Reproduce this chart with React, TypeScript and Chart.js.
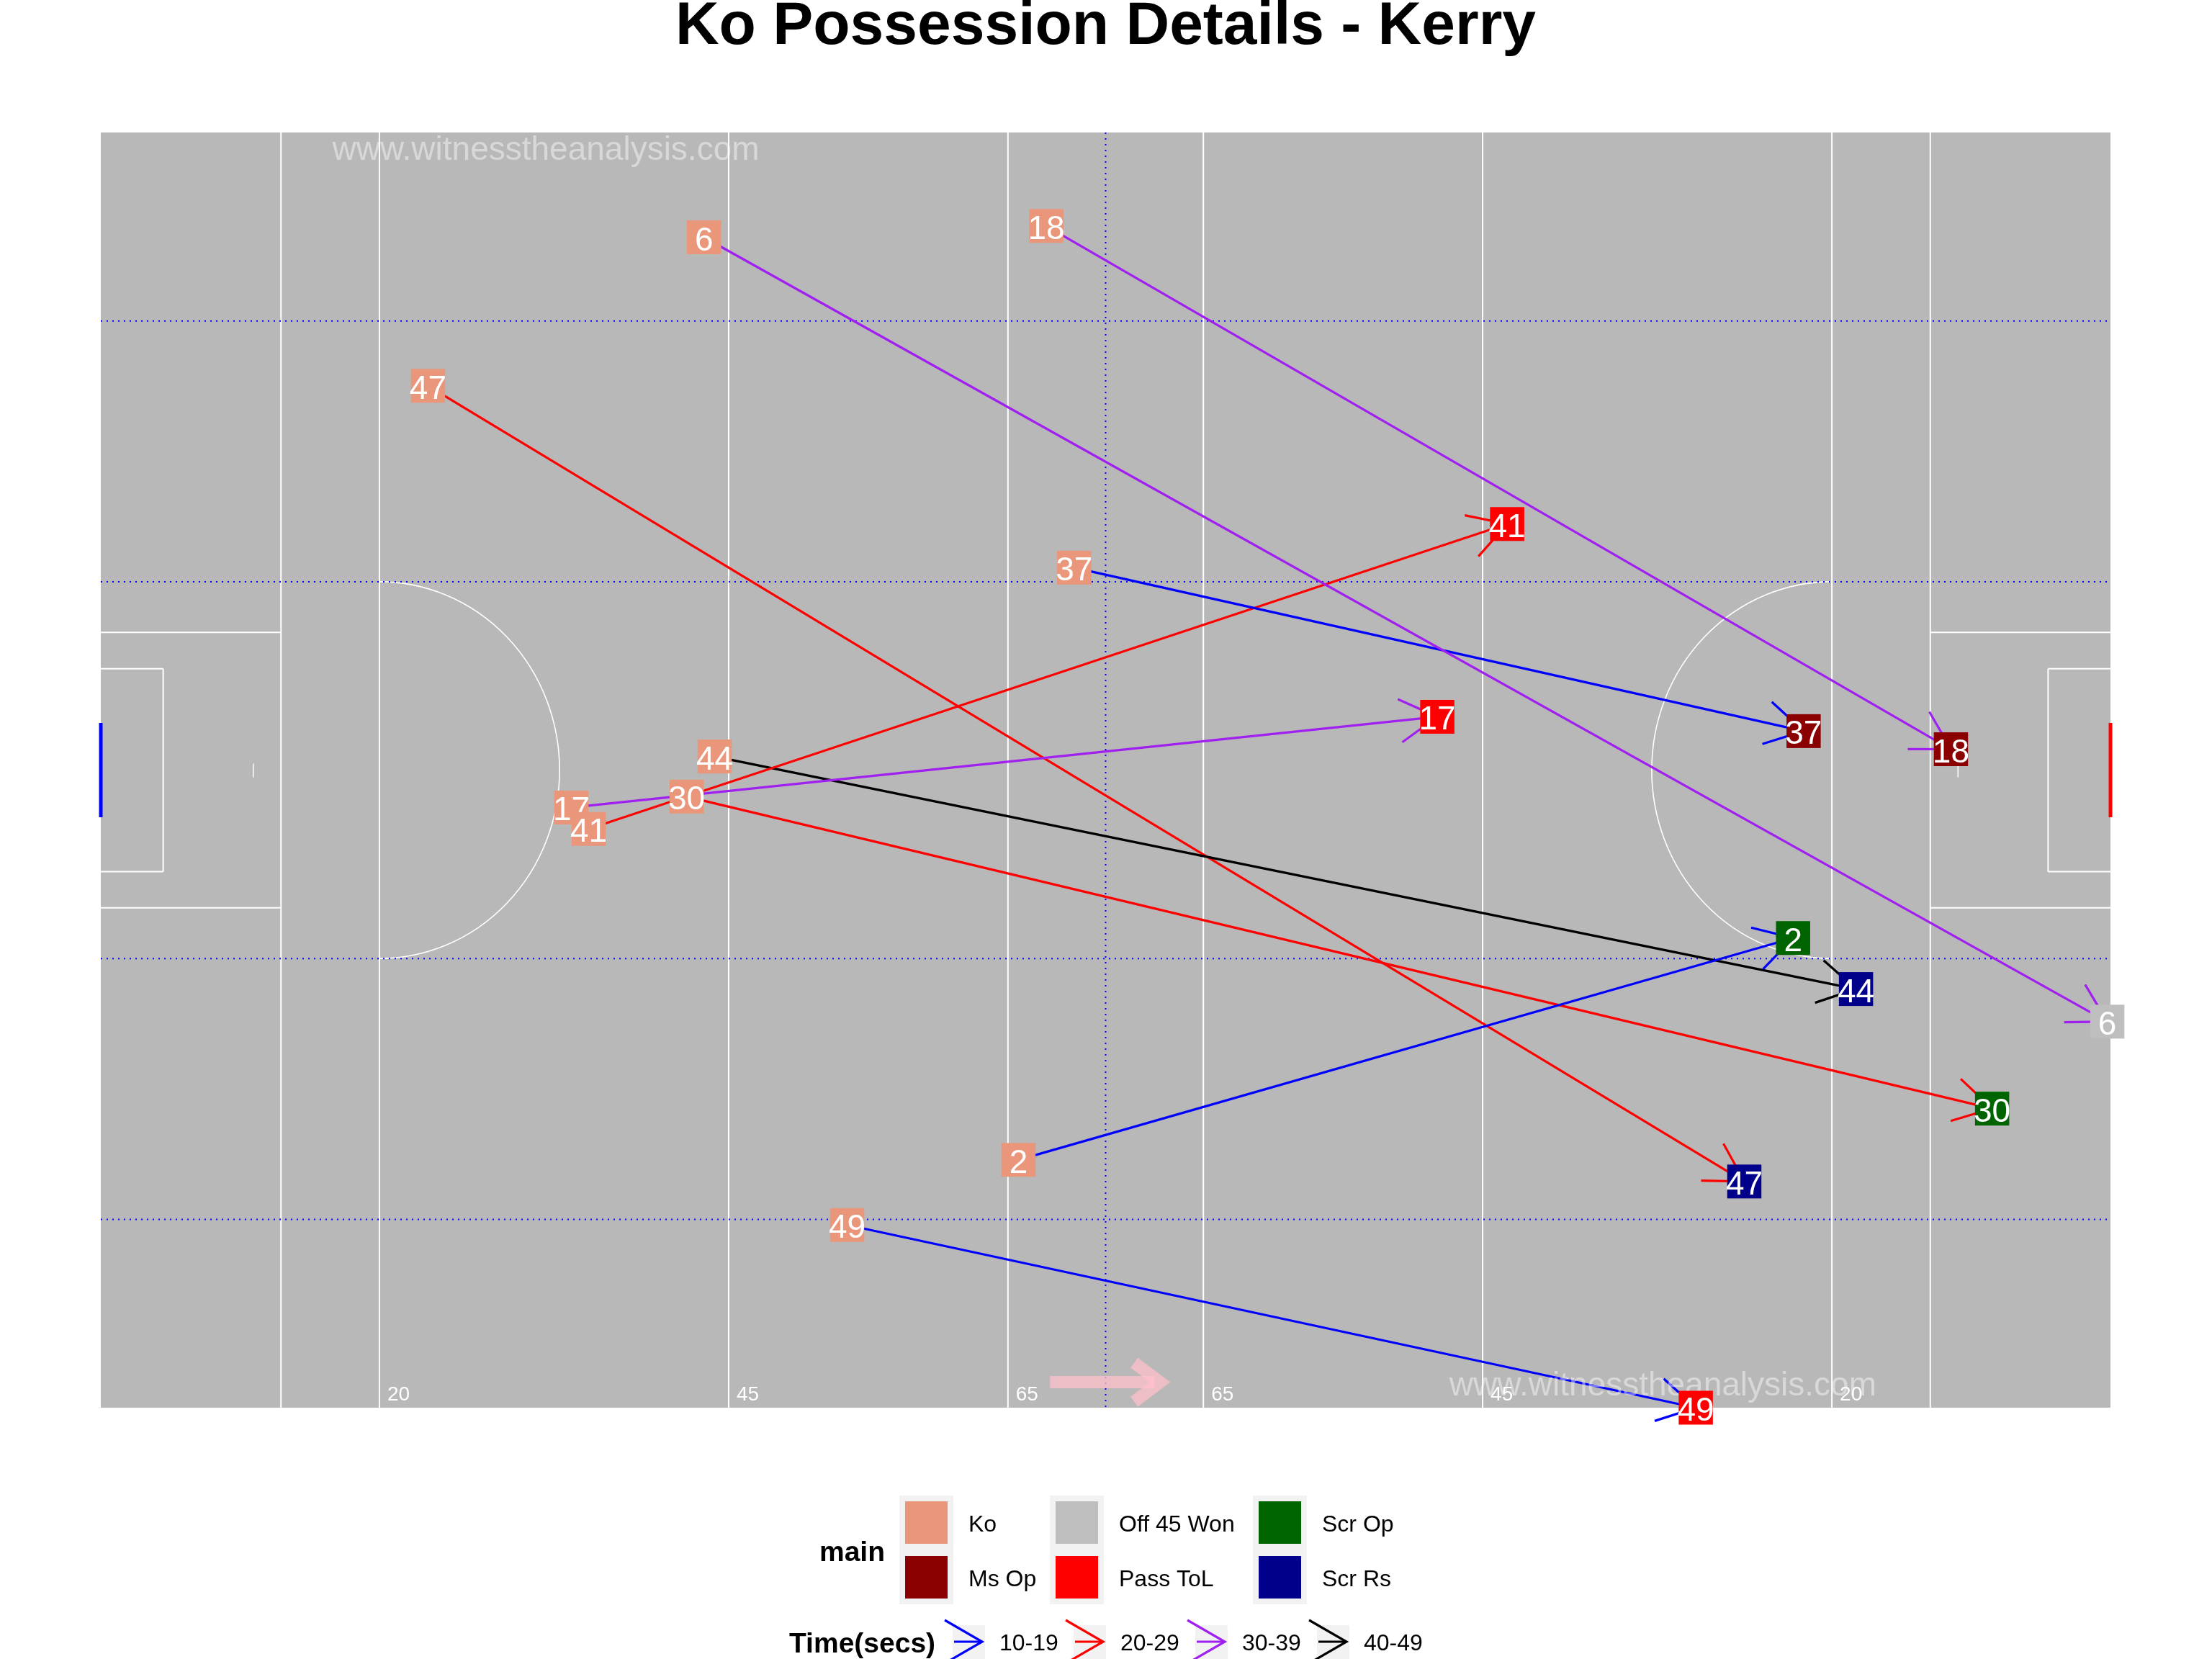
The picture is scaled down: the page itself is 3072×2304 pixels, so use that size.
import React, { useEffect, useRef } from 'react';
import { Chart, registerables } from 'chart.js';

Chart.register(...registerables);

// ---------- data ----------
const possessionIds = ['2', '6', '17', '18', '30', '37', '41', '44', '47', '49'];
const startX = [66.21, 43.52, 33.95, 68.22, 42.27, 70.23, 35.2, 44.29, 23.61, 53.85];
const startY = [17.1, 80.77, 41.42, 81.55, 42.17, 57.97, 39.94, 44.94, 70.52, 12.61];
const endX = [122.1, 144.77, 96.43, 133.49, 136.46, 122.86, 101.47, 126.64, 118.58, 115.08];
const endY = [32.41, 26.64, 47.68, 45.44, 20.64, 46.69, 60.98, 28.89, 15.61, 0.0];
const startOutcome = ['Ko', 'Ko', 'Ko', 'Ko', 'Ko', 'Ko', 'Ko', 'Ko', 'Ko', 'Ko'];
const endOutcome = ['Scr Op', 'Off 45 Won', 'Pass ToL', 'Ms Op', 'Scr Op', 'Ms Op', 'Pass ToL', 'Scr Rs', 'Scr Rs', 'Pass ToL'];
const timeBin = ['10-19', '30-39', '30-39', '30-39', '20-29', '10-19', '20-29', '40-49', '20-29', '10-19'];

const outcomeCategories = ['Ko', 'Ms Op', 'Off 45 Won', 'Pass ToL', 'Scr Op', 'Scr Rs'];
const outcomeColors = ['#E9967A', '#8B0000', '#BEBEBE', '#FF0000', '#006400', '#00008B'];
const timeCategories = ['10-19', '20-29', '30-39', '40-49'];
const timeColors = ['#0000FF', '#FF0000', '#A020F0', '#000000'];

// pitch geometry (metres)
const pitchLength = 145;
const pitchWidth = 88;
const pitchLineX = [13, 20.1, 45.3, 65.45, 79.55, 99.7, 124.9, 132];
const distanceX = [20.1, 45.3, 65.45, 79.55, 99.7, 124.9];
const distanceLabels = ['20', '45', '65', '65', '45', '20'];
const dottedY = [13, 31, 57, 75];
const halfwayX = 72.5;

const TITLE = 'Ko Possession Details - Kerry';
const WATERMARK = 'www.witnesstheanalysis.com';
const FONT = '"Liberation Sans", Arial, Helvetica, sans-serif';

const colorOf = (cat: string) => outcomeColors[outcomeCategories.indexOf(cat)];
const timeColorOf = (t: string) => timeColors[timeCategories.indexOf(t)];

function drawArrowHead(ctx: CanvasRenderingContext2D, x0: number, y0: number, x1: number, y1: number, color: string, len: number, width: number) {
  const a = Math.atan2(y1 - y0, x1 - x0);
  const s = Math.PI / 6;
  ctx.save();
  ctx.strokeStyle = color;
  ctx.lineWidth = width;
  ctx.lineCap = 'butt';
  ctx.beginPath();
  ctx.moveTo(x1 - len * Math.cos(a - s), y1 - len * Math.sin(a - s));
  ctx.lineTo(x1, y1);
  ctx.lineTo(x1 - len * Math.cos(a + s), y1 - len * Math.sin(a + s));
  ctx.stroke();
  ctx.restore();
}

function drawLabel(ctx: CanvasRenderingContext2D, cx: number, cy: number, text: string, fill: string) {
  const w = 47.5;
  const h = 47;
  ctx.save();
  ctx.fillStyle = fill;
  ctx.fillRect(cx - w / 2, cy - h / 2, w, h);
  ctx.fillStyle = '#FFFFFF';
  ctx.font = `46px ${FONT}`;
  ctx.textAlign = 'center';
  ctx.textBaseline = 'alphabetic';
  ctx.fillText(text, cx, cy + 18);
  ctx.restore();
}

const pitchPlugin = {
  id: 'pitch',
  beforeDraw(chart: any) {
    const { ctx, chartArea: ca } = chart;
    ctx.save();
    ctx.fillStyle = '#FFFFFF';
    ctx.fillRect(0, 0, chart.width, chart.height);
    ctx.fillStyle = '#B8B8B8';
    ctx.fillRect(ca.left, ca.top, ca.right - ca.left, ca.bottom - ca.top);
    ctx.restore();
  },
  beforeDatasetsDraw(chart: any) {
    const { ctx } = chart;
    const xs = chart.scales.x;
    const ys = chart.scales.y;
    const px = (v: number) => xs.getPixelForValue(v);
    const py = (v: number) => ys.getPixelForValue(v);
    const mid = pitchWidth / 2;
    ctx.save();
    ctx.strokeStyle = '#FFFFFF';
    ctx.lineWidth = 2;
    ctx.beginPath();
    pitchLineX.forEach((x) => {
      ctx.moveTo(px(x), py(0));
      ctx.lineTo(px(x), py(pitchWidth));
    });
    // large rectangles
    [mid - 9.5, mid + 9.5].forEach((y) => {
      ctx.moveTo(px(0), py(y));
      ctx.lineTo(px(13), py(y));
      ctx.moveTo(px(pitchLength - 13), py(y));
      ctx.lineTo(px(pitchLength), py(y));
    });
    // small rectangles
    [mid - 7, mid + 7].forEach((y) => {
      ctx.moveTo(px(0), py(y));
      ctx.lineTo(px(4.5), py(y));
      ctx.moveTo(px(pitchLength - 4.5), py(y));
      ctx.lineTo(px(pitchLength), py(y));
    });
    ctx.moveTo(px(4.5), py(mid - 7));
    ctx.lineTo(px(4.5), py(mid + 7));
    ctx.moveTo(px(pitchLength - 4.5), py(mid - 7));
    ctx.lineTo(px(pitchLength - 4.5), py(mid + 7));
    ctx.stroke();

    // penalty marks
    ctx.lineWidth = 1.5;
    ctx.beginPath();
    [11, pitchLength - 11].forEach((x) => {
      ctx.moveTo(px(x), py(mid + 0.45));
      ctx.lineTo(px(x), py(mid - 0.5));
    });
    ctx.stroke();

    // arcs
    const rx = px(13) - px(0);
    const ry = py(0) - py(13);
    ctx.lineWidth = 1.6;
    ctx.beginPath();
    ctx.ellipse(px(20.1), py(mid), rx, ry, 0, -Math.PI / 2, Math.PI / 2);
    ctx.stroke();
    ctx.beginPath();
    ctx.ellipse(px(124.9), py(mid), rx, ry, 0, Math.PI / 2, (3 * Math.PI) / 2);
    ctx.stroke();

    // distance labels
    ctx.fillStyle = '#FFFFFF';
    ctx.font = `28px ${FONT}`;
    ctx.textAlign = 'left';
    ctx.textBaseline = 'alphabetic';
    distanceX.forEach((x, i) => {
      ctx.fillText(distanceLabels[i], px(x) + 11, py(0.5));
    });

    // dotted blue lines
    ctx.strokeStyle = '#0000FF';
    ctx.lineWidth = 2;
    ctx.setLineDash([2, 6]);
    ctx.beginPath();
    dottedY.forEach((y) => {
      ctx.moveTo(px(0), py(y));
      ctx.lineTo(px(pitchLength), py(y));
    });
    ctx.moveTo(px(halfwayX), py(pitchWidth));
    ctx.lineTo(px(halfwayX), py(0));
    ctx.stroke();
    ctx.setLineDash([]);

    // goal posts
    ctx.lineWidth = 5;
    ctx.strokeStyle = '#0000FF';
    ctx.beginPath();
    ctx.moveTo(px(0), py(mid - 3.25));
    ctx.lineTo(px(0), py(mid + 3.25));
    ctx.stroke();
    ctx.strokeStyle = '#FF0000';
    ctx.beginPath();
    ctx.moveTo(px(pitchLength), py(mid - 3.25));
    ctx.lineTo(px(pitchLength), py(mid + 3.25));
    ctx.stroke();

    // direction-of-play arrow
    const ty = py(1.76);
    const x0 = px(68.48);
    const tip = px(76.43);
    ctx.strokeStyle = 'rgba(255,192,203,0.75)';
    ctx.lineWidth = 17;
    ctx.lineCap = 'butt';
    ctx.lineJoin = 'miter';
    ctx.beginPath();
    ctx.moveTo(x0, ty);
    ctx.lineTo(tip - 8, ty);
    ctx.stroke();
    ctx.beginPath();
    ctx.moveTo(tip - 36, ty - 27);
    ctx.lineTo(tip, ty);
    ctx.lineTo(tip - 36, ty + 27);
    ctx.stroke();
    ctx.restore();
  },
  afterDatasetsDraw(chart: any) {
    const { ctx } = chart;
    const xs = chart.scales.x;
    const ys = chart.scales.y;
    const px = (v: number) => xs.getPixelForValue(v);
    const py = (v: number) => ys.getPixelForValue(v);

    possessionIds.forEach((_, i) => {
      drawArrowHead(ctx, px(startX[i]), py(startY[i]), px(endX[i]), py(endY[i]), timeColorOf(timeBin[i]), 60, 3.2);
    });

    // watermarks
    ctx.save();
    ctx.fillStyle = 'rgba(255,255,255,0.45)';
    ctx.font = `46px ${FONT}`;
    ctx.textAlign = 'left';
    ctx.textBaseline = 'alphabetic';
    ctx.fillText(WATERMARK, px(16.7), py(86.1));
    ctx.fillText(WATERMARK, px(97.3), py(0.85));
    ctx.restore();

    possessionIds.forEach((id, i) => {
      drawLabel(ctx, px(startX[i]), py(startY[i]), id, colorOf(startOutcome[i]));
    });
    possessionIds.forEach((id, i) => {
      drawLabel(ctx, px(endX[i]), py(endY[i]), id, colorOf(endOutcome[i]));
    });
  },
  afterDraw(chart: any) {
    const { ctx, chartArea: ca } = chart;
    ctx.save();
    // title
    ctx.fillStyle = '#000000';
    ctx.font = `bold 84px ${FONT}`;
    ctx.textAlign = 'center';
    ctx.textBaseline = 'alphabetic';
    ctx.fillText(TITLE, (ca.left + ca.right) / 2, 61);

    // legend: main
    ctx.textAlign = 'left';
    ctx.font = `bold 39px ${FONT}`;
    ctx.fillText('main', 1138, 2168);
    const colBgX = [1249, 1458, 1740];
    const rowY = [2085, 2161];
    ctx.fillStyle = '#F2F2F2';
    colBgX.forEach((x) => ctx.fillRect(x, 2077, 75, 151));
    outcomeCategories.forEach((cat, i) => {
      const col = Math.floor(i / 2);
      const row = i % 2;
      const kx = colBgX[col] + 8;
      const ky = rowY[row];
      ctx.fillStyle = outcomeColors[i];
      ctx.fillRect(kx, ky, 59, 59);
      ctx.fillStyle = '#000000';
      ctx.font = `32px ${FONT}`;
      ctx.fillText(cat, colBgX[col] + 96, ky + 42);
    });

    // legend: time
    ctx.font = `bold 39px ${FONT}`;
    ctx.fillStyle = '#000000';
    ctx.fillText('Time(secs)', 1096, 2295);
    const keyX = [1323, 1491, 1660, 1829];
    timeCategories.forEach((t, i) => {
      const bx = keyX[i];
      ctx.fillStyle = '#F2F2F2';
      ctx.fillRect(bx, 2257, 45, 60);
      const y = 2280;
      ctx.strokeStyle = timeColors[i];
      ctx.lineWidth = 3.2;
      ctx.beginPath();
      ctx.moveTo(bx + 2, y);
      ctx.lineTo(bx + 41, y);
      ctx.stroke();
      drawArrowHead(ctx, bx + 2, y, bx + 41, y, timeColors[i], 60, 3.2);
      ctx.fillStyle = '#000000';
      ctx.font = `32px ${FONT}`;
      ctx.fillText(t, bx + 65, 2292);
    });
    ctx.restore();
  },
};

export default function App() {
  const ref = useRef<HTMLCanvasElement | null>(null);
  useEffect(() => {
    document.body.style.margin = '0';
    const canvas = ref.current;
    if (!canvas) return;
    const datasets = possessionIds.map((id, i) => ({
      label: id,
      data: [
        { x: startX[i], y: startY[i] },
        { x: endX[i], y: endY[i] },
      ],
      showLine: true,
      borderColor: timeColorOf(timeBin[i]),
      backgroundColor: timeColorOf(timeBin[i]),
      borderWidth: 3.2,
      pointRadius: 0,
      pointHoverRadius: 0,
      clip: false as any,
      tension: 0,
    }));
    const chart = new Chart(canvas, {
      type: 'scatter',
      data: { datasets },
      options: {
        animation: false,
        responsive: false,
        maintainAspectRatio: false,
        devicePixelRatio: 1,
        events: [],
        layout: { padding: { left: 140, right: 141, top: 184, bottom: 349 } },
        scales: {
          x: { type: 'linear', min: 0, max: pitchLength, display: false },
          y: { type: 'linear', min: 0, max: pitchWidth, display: false },
        },
        plugins: {
          legend: { display: false },
          title: { display: false },
          tooltip: { enabled: false },
        },
      },
      plugins: [pitchPlugin],
    });
    return () => chart.destroy();
  }, []);
  return (
    <div style={{ position: 'absolute', left: 0, top: 0, width: 3072, height: 2304 }}>
      <canvas ref={ref} width={3072} height={2304} style={{ display: 'block', width: 3072, height: 2304 }} />
    </div>
  );
}
